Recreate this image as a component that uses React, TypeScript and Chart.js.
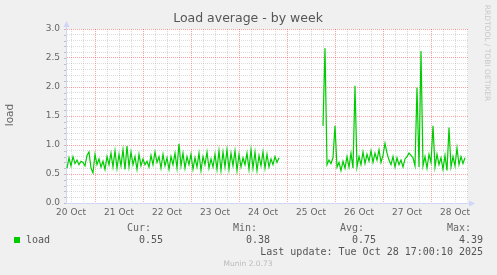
import React, { useEffect, useRef } from "react";
import { Chart, registerables } from "chart.js";

Chart.register(...registerables);

// ---- data ----
const chartTitle = "Load average - by week";
const yAxisTitle = "load";
const dayLabels = ["20 Oct", "21 Oct", "22 Oct", "23 Oct", "24 Oct", "25 Oct", "26 Oct", "27 Oct", "28 Oct"];
// hours counted from 20 Oct 00:00
const seg1StartHour = 10;
const seg1Values = [
  0.60, 0.78, 0.64, 0.80, 0.68, 0.74, 0.66, 0.72, 0.70, 0.64,
  0.82, 0.88, 0.60, 0.52, 0.84, 0.66, 0.76, 0.62, 0.72, 0.58,
  0.80, 0.66, 0.86, 0.62, 0.90, 0.60, 0.84, 0.64, 0.92, 0.58,
  0.98, 0.62, 0.88, 0.66, 0.80, 0.58, 0.84, 0.64, 0.76, 0.66,
  0.72, 0.62, 0.82, 0.66, 0.88, 0.70, 0.80, 0.60, 0.84, 0.64,
  0.78, 0.58, 0.80, 0.66, 0.86, 0.60, 1.02, 0.64, 0.86, 0.60,
  0.80, 0.66, 0.84, 0.58, 0.78, 0.62, 0.86, 0.56, 0.80, 0.66,
  0.88, 0.60, 0.76, 0.62, 0.84, 0.58, 0.90, 0.56, 0.88, 0.62,
  0.92, 0.58, 0.86, 0.64, 0.90, 0.56, 0.84, 0.62, 0.78, 0.66,
  0.86, 0.58, 0.92, 0.60, 0.88, 0.56, 0.82, 0.64, 0.88, 0.60,
  0.84, 0.62, 0.76, 0.66, 0.80, 0.70, 0.78,
];
const seg2StartHour = 138;
const seg2Values = [
  1.33, 2.67, 0.66, 0.74, 0.68, 0.78, 1.33, 0.62, 0.70, 0.56,
  0.72, 0.60, 0.80, 0.62, 0.86, 0.60, 2.02, 0.62, 0.80, 0.66,
  0.88, 0.68, 0.84, 0.72, 0.90, 0.70, 0.86, 0.74, 0.92, 0.70,
  0.82, 1.03, 0.86, 0.74, 0.66, 0.80, 0.62, 0.78, 0.66, 0.74,
  0.62, 0.76, 0.80, 0.86, 0.82, 0.78, 0.64, 1.99, 0.62, 2.62,
  0.64, 0.80, 0.60, 0.84, 0.70, 1.33, 0.62, 0.84, 0.66, 0.78,
  0.58, 0.82, 0.56, 1.30, 0.62, 0.80, 0.64, 0.95, 0.66, 0.80,
  0.68, 0.78,
];
const xMinHour = 9.5;
const xMaxHour = 210.5;
const yMin = 0;
const yMax = 3;
const seriesName = "load";
const legendHeaders = ["Cur:", "Min:", "Avg:", "Max:"];
const legendValues = ["0.55", "0.38", "0.75", "4.39"];
const lastUpdate = "Last update: Tue Oct 28 17:00:10 2025";
const footerText = "Munin 2.0.73";
const sideText = "RRDTOOL / TOBI OETIKER";

const LINE_COLOR = "#00cc00";
const AXIS_COLOR = "#cfd6f8";
const MGRID = "rgba(255,0,0,0.36)";
const GRID = "rgba(140,140,140,0.3)";
const FONT = '"DejaVu Sans", sans-serif';
const MONO = '"DejaVu Sans Mono", monospace';

export default function App() {
  const ref = useRef<HTMLCanvasElement | null>(null);

  useEffect(() => {
    const canvas = ref.current;
    if (!canvas) return;

    const points: { x: number; y: number | null }[] = [];
    seg1Values.forEach((v, i) => points.push({ x: seg1StartHour + i, y: v }));
    points.push({ x: seg1StartHour + seg1Values.length, y: null });
    seg2Values.forEach((v, i) => points.push({ x: seg2StartHour + i, y: v }));

    const decor = {
      id: "decor",
      afterDraw(chart: any) {
        const ctx = chart.ctx as CanvasRenderingContext2D;
        const area = chart.chartArea;
        ctx.save();
        // small tick marks left of the y axis
        const ys = chart.scales.y;
        ctx.strokeStyle = "rgba(140,140,140,0.5)";
        ctx.lineWidth = 1;
        ys.ticks.forEach((t: any) => {
          const py = Math.round(ys.getPixelForValue(t.value)) + 0.5;
          ctx.beginPath();
          ctx.moveTo(area.left - 2, py);
          ctx.lineTo(area.left, py);
          ctx.stroke();
        });
        // title
        ctx.fillStyle = "#555";
        ctx.font = `12.5px ${FONT}`;
        ctx.textAlign = "center";
        ctx.textBaseline = "middle";
        ctx.fillText(chartTitle, 248, 19);
        // y title
        ctx.save();
        ctx.translate(10, 115);
        ctx.rotate(-Math.PI / 2);
        ctx.font = `10.5px ${FONT}`;
        ctx.fillStyle = "#666";
        ctx.fillText(yAxisTitle, 0, 0);
        ctx.restore();
        // side text
        ctx.save();
        ctx.translate(487, 53);
        ctx.rotate(Math.PI / 2);
        ctx.font = `7.5px ${FONT}`;
        ctx.fillStyle = "#c8c8c8";
        ctx.fillText(sideText, 0, 0);
        ctx.restore();
        // arrows
        ctx.fillStyle = AXIS_COLOR;
        ctx.strokeStyle = AXIS_COLOR;
        ctx.lineWidth = 1;
        const lx = Math.round(area.left) + 0.5;
        ctx.beginPath();
        ctx.moveTo(lx, area.top);
        ctx.lineTo(lx, area.top - 3);
        ctx.stroke();
        ctx.beginPath();
        ctx.moveTo(lx, area.top - 8);
        ctx.lineTo(lx - 3, area.top - 2);
        ctx.lineTo(lx + 3, area.top - 2);
        ctx.closePath();
        ctx.fill();
        const by = Math.round(area.bottom) + 0.5;
        ctx.beginPath();
        ctx.moveTo(area.right, by);
        ctx.lineTo(area.right + 1, by);
        ctx.stroke();
        ctx.beginPath();
        ctx.moveTo(area.right + 7, by);
        ctx.lineTo(area.right + 1, by - 3);
        ctx.lineTo(area.right + 1, by + 3);
        ctx.closePath();
        ctx.fill();
        // legend
        ctx.font = `10px ${MONO}`;
        ctx.fillStyle = "#666";
        ctx.textAlign = "right";
        const headX = [151, 257, 364, 471];
        const valX = [163, 270, 376, 483];
        legendHeaders.forEach((h, i) => ctx.fillText(h, headX[i], 228));
        ctx.fillStyle = "#555";
        legendValues.forEach((v, i) => ctx.fillText(v, valX[i], 240));
        ctx.fillText(lastUpdate, 483, 252);
        ctx.textAlign = "left";
        ctx.fillText(seriesName, 26, 240);
        ctx.fillStyle = LINE_COLOR;
        ctx.fillRect(14, 237, 6, 6);
        // footer
        ctx.font = `7.5px ${FONT}`;
        ctx.fillStyle = "#bbb";
        ctx.textAlign = "center";
        ctx.fillText(footerText, 248, 264);
        ctx.restore();
      },
      beforeDraw(chart: any) {
        const ctx = chart.ctx as CanvasRenderingContext2D;
        const a = chart.chartArea;
        ctx.save();
        ctx.fillStyle = "#f0f0f0";
        ctx.fillRect(0, 0, chart.width, chart.height);
        ctx.fillStyle = "#ffffff";
        ctx.fillRect(a.left, a.top, a.right - a.left, a.bottom - a.top);
        ctx.restore();
      },
    };

    const chart = new Chart(canvas, {
      type: "line",
      data: {
        datasets: [
          {
            label: seriesName,
            data: points as any,
            borderColor: LINE_COLOR,
            borderWidth: 1.2,
            pointRadius: 0,
            tension: 0,
            spanGaps: false,
          },
        ],
      },
      options: {
        responsive: false,
        animation: false,
        layout: { padding: { left: 0, right: 29, top: 29, bottom: 52 } },
        plugins: { legend: { display: false }, title: { display: false }, tooltip: { enabled: false } },
        scales: {
          x: {
            type: "linear",
            min: xMinHour,
            max: xMaxHour,
            afterFit: (s: any) => {
              s.height = 20;
            },
            afterBuildTicks: (s: any) => {
              const t = [];
              for (let v = 12; v <= 210; v += 6) t.push({ value: v });
              s.ticks = t;
            },
            grid: {
              drawTicks: false,
              color: (c: any) => (c.tick && c.tick.value % 24 === 0 ? MGRID : GRID),
              lineWidth: 1,
            },
            border: { display: true, color: AXIS_COLOR, width: 1, dash: [1, 1] },
            ticks: {
              autoSkip: false,
              maxRotation: 0,
              padding: 4.5,
              color: "#666",
              font: { family: FONT, size: 9 },
              callback: (v: any) => {
                const n = Number(v);
                if ((n - 12) % 24 === 0) return dayLabels[(n - 12) / 24] ?? "";
                return "";
              },
            },
          },
          y: {
            min: yMin,
            max: yMax,
            afterFit: (s: any) => {
              s.width = 66;
            },
            afterBuildTicks: (s: any) => {
              const t = [];
              for (let i = 0; i <= 30; i++) t.push({ value: i / 10 });
              s.ticks = t;
            },
            grid: {
              drawTicks: false,
              color: (c: any) => (c.tick && Math.round(c.tick.value * 10) % 5 === 0 ? MGRID : GRID),
              lineWidth: 1,
            },
            border: { display: true, color: AXIS_COLOR, width: 1, dash: [1, 1] },
            ticks: {
              autoSkip: false,
              padding: 6,
              color: "#666",
              font: { family: FONT, size: 9 },
              callback: (v: any) => {
                const n = Math.round(Number(v) * 10);
                return n % 5 === 0 ? (n / 10).toFixed(1) : "";
              },
            },
          },
        },
      },
      plugins: [decor],
    });

    return () => chart.destroy();
  }, []);

  return (
    <div style={{ position: "fixed", left: 0, top: 0, width: 497, height: 275, background: "#f0f0f0" }}>
      <canvas ref={ref} width={497} height={275} style={{ display: "block", width: 497, height: 275 }} />
    </div>
  );
}
